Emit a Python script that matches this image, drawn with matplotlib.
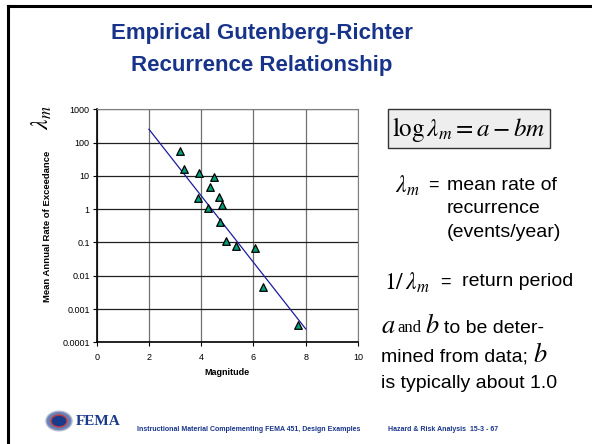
import matplotlib
matplotlib.use("Agg")
import matplotlib.pyplot as plt
import numpy as np
from matplotlib.patches import Rectangle, Circle
from matplotlib.lines import Line2D

plt.rcParams['font.family'] = ['Liberation Sans', 'DejaVu Sans']
plt.rcParams['mathtext.fontset'] = 'stix'

# Data
magnitude = [3.2, 3.35, 3.92, 4.47, 4.35, 3.87, 4.67, 4.8, 4.27, 4.7, 4.95, 5.32, 6.05, 6.37, 7.7]
rate = [55, 16, 12, 9.5, 4.6, 2.2, 2.4, 1.3, 1.1, 0.42, 0.11, 0.08, 0.07, 0.0045, 0.00033]
fit_m = [2, 8]
fit_a = 4.4
fit_b = 1.0
x_ticks = [0, 2, 4, 6, 8, 10]
y_ticks = [1e-4, 1e-3, 1e-2, 1e-1, 1, 10, 100, 1000]
y_labels = ['0.0001', '0.001', '0.01', '0.1', '1', '10', '100', '1000']

W, H = 592, 444
fig = plt.figure(figsize=(W / 100, H / 100), dpi=100)
fig.patch.set_facecolor('white')

def fx(x):
    return x / W

def fy(y):
    return 1 - y / H

# slide frame (top and left)
fig.add_artist(Line2D([fx(8), 1.0], [fy(6), fy(6)], color='black', lw=2.2, transform=fig.transFigure))
fig.add_artist(Line2D([fx(8), fx(8)], [fy(6), 0.0], color='black', lw=2.2, transform=fig.transFigure))

blue = '#17348a'
fig.text(fx(262), fy(34), 'Empirical Gutenberg-Richter', ha='center', va='center',
         fontsize=16, fontweight='bold', color=blue)
fig.text(fx(262), fy(65), 'Recurrence Relationship', ha='center', va='center',
         fontsize=16, fontweight='bold', color=blue)

# axes
ax = fig.add_axes([fx(96.7), fy(342.3), (358 - 96.7) / W, (342.3 - 109.3) / H])
ax.set_yscale('log')
ax.set_xlim(0, 10)
ax.set_ylim(1e-4, 1e3)
ax.set_xticks(x_ticks)
ax.set_xticklabels([str(t) for t in x_ticks])
ax.set_yticks(y_ticks)
ax.set_yticklabels(y_labels)
ax.yaxis.set_minor_locator(matplotlib.ticker.NullLocator())
ax.tick_params(axis='both', labelsize=6.5, length=3, width=0.8, direction='out', color='black', pad=2)
ax.tick_params(axis='x', pad=5)
ax.grid(axis='y', color='#202020', lw=0.9)
ax.grid(axis='x', color='#707070', lw=0.9)
ax.set_axisbelow(True)
ax.spines['left'].set_color('black')
ax.spines['bottom'].set_color('black')
ax.spines['left'].set_linewidth(1.2)
ax.spines['bottom'].set_linewidth(1.2)
ax.spines['top'].set_color('#808080')
ax.spines['right'].set_color('#808080')

fm = np.array(fit_m, dtype=float)
ax.plot(fm, 10 ** (fit_a - fit_b * fm), color='#1c1c9c', lw=0.9, zorder=3)
ax.scatter(magnitude, rate, marker='^', s=30, facecolor='#00a07a', edgecolor='black', linewidths=0.9, zorder=4)

ax.set_xlabel('Magnitude', fontsize=6.5, fontweight='bold', labelpad=4)
fig.text(fx(48), fy(226), 'Mean Annual Rate of Exceedance', rotation=90, ha='center', va='center',
         fontsize=6.8, fontweight='bold')
fig.text(fx(42), fy(118), r'$\lambda_m$', rotation=90, ha='center', va='center', fontsize=17)

# equation box
fig.add_artist(Rectangle((fx(388), fy(148)), (550 - 388) / W, (148 - 109) / H,
                         facecolor='#eeeeee', edgecolor='#333333', lw=1.0, transform=fig.transFigure))
fig.text(fx(469), fy(129), r'$\mathrm{log}\,\lambda_m = a - bm$', ha='center', va='center', fontsize=18)

# definitions
fs = 14
fig.text(fx(407), fy(186), r'$\lambda_m$', ha='center', va='center', fontsize=17)
fig.text(fx(428), fy(185), '=', ha='left', va='center', fontsize=13)
fig.text(fx(447), fy(185), 'mean rate of', ha='left', va='center', fontsize=fs)
fig.text(fx(447), fy(208), 'recurrence', ha='left', va='center', fontsize=fs)
fig.text(fx(447), fy(232), '(events/year)', ha='left', va='center', fontsize=fs)

fig.text(fx(384), fy(283), r'$1/\,\lambda_m$', ha='left', va='center', fontsize=17)
fig.text(fx(440), fy(282), '=', ha='left', va='center', fontsize=13)
fig.text(fx(462), fy(282), 'return period', ha='left', va='center', fontsize=fs)

fig.text(fx(381), fy(326), r'$a$', ha='left', va='center', fontsize=19)
fig.text(fx(397), fy(328), 'and', ha='left', va='center', fontsize=12, family='Liberation Serif')
fig.text(fx(425), fy(326), r'$b$', ha='left', va='center', fontsize=19)
fig.text(fx(444), fy(328), 'to be deter-', ha='left', va='center', fontsize=fs)
fig.text(fx(381), fy(357), 'mined from data;', ha='left', va='center', fontsize=fs)
fig.text(fx(533), fy(355), r'$b$', ha='left', va='center', fontsize=19)
fig.text(fx(381), fy(383), 'is typically about 1.0', ha='left', va='center', fontsize=fs)

# footer
fig.add_artist(Circle((fx(59), fy(421)), 13 / W, facecolor='#6a7fb5', edgecolor='#b0b8d0', lw=1.0,
                      transform=fig.transFigure))
fig.add_artist(Circle((fx(59), fy(421)), 8 / W, facecolor='#1a3a8c', edgecolor='#c04040', lw=1.0,
                      transform=fig.transFigure))
fig.text(fx(76), fy(421), 'FEMA', ha='left', va='center', fontsize=11, fontweight='bold',
         family='Liberation Serif', color='#1a3a8c')
fig.text(fx(137), fy(429), 'Instructional Material Complementing FEMA 451, Design Examples',
         ha='left', va='center', fontsize=5, fontweight='bold', color=blue)
fig.text(fx(388), fy(429), 'Hazard & Risk Analysis  15-3 - 67',
         ha='left', va='center', fontsize=5, fontweight='bold', color=blue)

fig.savefig('out.png', dpi=100)
